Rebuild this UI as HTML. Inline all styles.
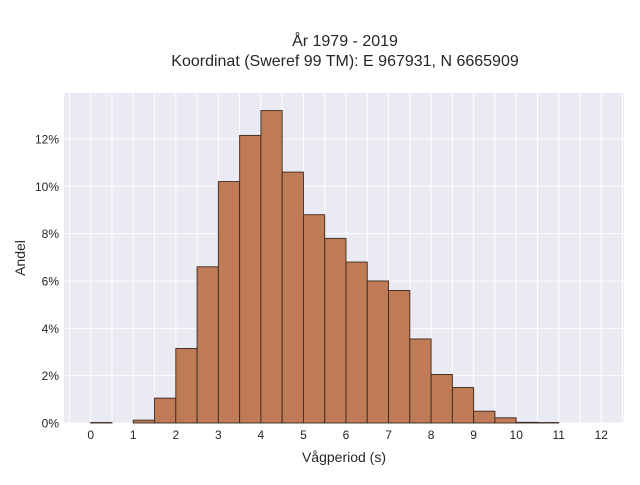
<!DOCTYPE html>
<html><head><meta charset="utf-8"><style>
body{margin:0;background:#fff;}
svg text{font-family:"Liberation Sans",sans-serif;fill:#262626;}
</style></head><body>
<svg width="640" height="480" xmlns="http://www.w3.org/2000/svg">
<text x="345" y="46" text-anchor="middle" font-size="16">År 1979 - 2019</text>
<text x="345" y="66" text-anchor="middle" font-size="16">Koordinat (Sweref 99 TM): E 967931, N 6665909</text>
<rect x="64" y="93" width="560" height="330" fill="#eaeaf2"/>
<g id="grid"></g>
<g id="bars"></g>
<g id="xticks"></g>
<g id="yticks"></g>
<text x="344" y="462" text-anchor="middle" font-size="14">Vågperiod (s)</text>
<text transform="translate(25,258) rotate(-90)" text-anchor="middle" font-size="14">Andel</text>
</svg>
<script>
const binStarts=[0,0.5,1,1.5,2,2.5,3,3.5,4,4.5,5,5.5,6,6.5,7,7.5,8,8.5,9,9.5,10,10.5];
const shares=[0.02,0,0.12,1.05,3.15,6.6,10.2,12.15,13.2,10.6,8.8,7.8,6.8,6.0,5.6,3.55,2.05,1.5,0.5,0.22,0.03,0.02];
const binWidth=0.5;
const xTicks=[0,1,2,3,4,5,6,7,8,9,10,11,12];
const yTicks=[0,2,4,6,8,10,12];
const NS="http://www.w3.org/2000/svg";
const x=v=>90.7+v*42.55;
const y=v=>423-v*23.67;
const grid=document.getElementById('grid');
for(let g=-0.5;g<=12.5;g+=0.5){const l=document.createElementNS(NS,'line');
l.setAttribute('x1',x(g));l.setAttribute('x2',x(g));l.setAttribute('y1',93);l.setAttribute('y2',423);
l.setAttribute('stroke','#fff');l.setAttribute('stroke-width','1');


grid.appendChild(l);}
yTicks.forEach(t=>{const l=document.createElementNS(NS,'line');
l.setAttribute('x1',64);l.setAttribute('x2',624);l.setAttribute('y1',y(t));l.setAttribute('y2',y(t));
l.setAttribute('stroke','#fff');l.setAttribute('stroke-width','1');


grid.appendChild(l);
const tx=document.createElementNS(NS,'text');
tx.setAttribute('x',59);tx.setAttribute('y',y(t)+4.5);tx.setAttribute('text-anchor','end');tx.setAttribute('font-size','12');
tx.textContent=t+'%';


document.getElementById('yticks').appendChild(tx);});
const bars=document.getElementById('bars');
binStarts.forEach((b,i)=>{if(shares[i]<=0)return;const r=document.createElementNS(NS,'rect');
r.setAttribute('x',x(b));r.setAttribute('width',x(b+binWidth)-x(b));
r.setAttribute('y',y(shares[i]));r.setAttribute('height',y(0)-y(shares[i]));
r.setAttribute('fill','#bf7b56');r.setAttribute('stroke','#3a2a20');r.setAttribute('stroke-width','0.9');


bars.appendChild(r);});
xTicks.forEach(t=>{const tx=document.createElementNS(NS,'text');
tx.setAttribute('x',x(t));tx.setAttribute('y',439);tx.setAttribute('text-anchor','middle');tx.setAttribute('font-size','12');
tx.textContent=t;


document.getElementById('xticks').appendChild(tx);});
</script>
</body></html>
